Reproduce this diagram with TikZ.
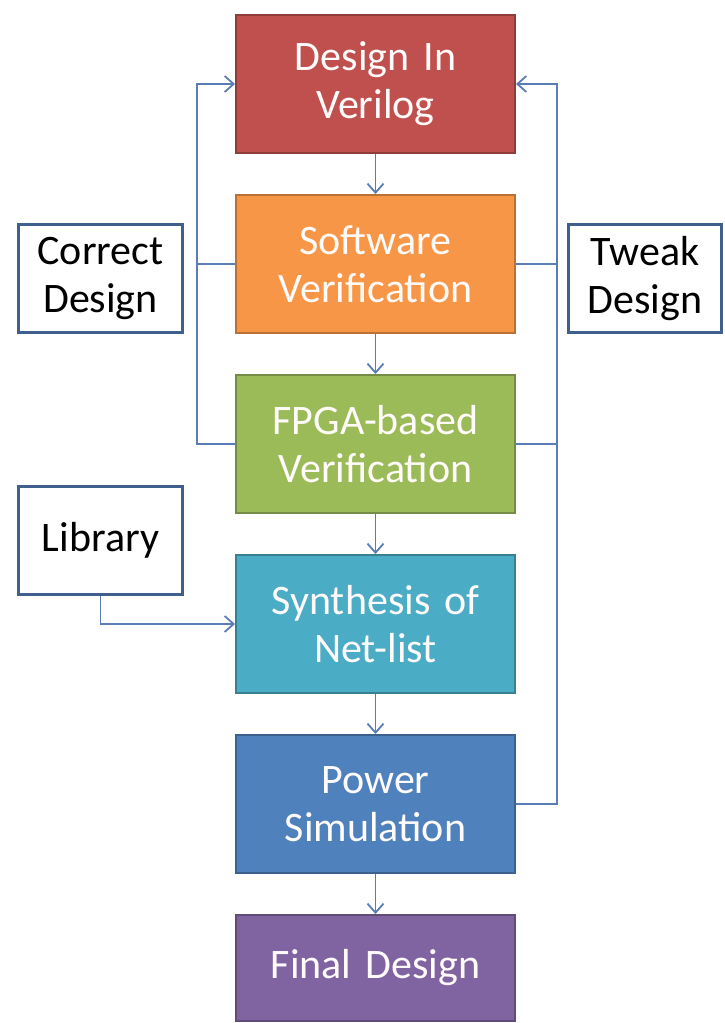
\documentclass[tikz,border=0pt]{standalone}
\usepackage{fontspec}
\setmainfont{Carlito}
\usepackage{xcolor}
\usetikzlibrary{arrows.meta,positioning}
\definecolor{flowred}{HTML}{C0504D}
\definecolor{floworange}{HTML}{F79646}
\definecolor{flowgreen}{HTML}{9BBB59}
\definecolor{flowteal}{HTML}{4BACC6}
\definecolor{flowblue}{HTML}{4F81BD}
\definecolor{flowpurple}{HTML}{8064A2}
\definecolor{linkblue}{HTML}{5B7DB5}
\definecolor{sideedge}{HTML}{3F5F8C}

\begin{document}
\begin{tikzpicture}[
      x=1pt, y=1pt,
      >={Straight Barb[length=9pt,width=16pt]},
      stage/.style={draw, line width=2pt, minimum width=279pt,
                    minimum height=138pt, text width=268pt, align=center,
                    text=white!94!pink, font=\fontsize{42}{48}\selectfont},
      sidebox/.style={draw=sideedge, line width=3pt, fill=white,
                      minimum height=108pt, align=center,
                      font=\fontsize{42}{48}\selectfont},
      link/.style={->, line width=1.8pt, linkblue},
      stub/.style={line width=1.8pt, linkblue},
    ]
    \useasboundingbox (0,0) rectangle (725,-1023);

    % --- boxes ---
    \node[stage, fill=flowred, draw=flowred!75!black] (design) at (375.5,-84)
      {Design In\\Verilog};
    \node[stage, fill=floworange, draw=floworange!75!black, below=40pt of design] (soft)
      {Software\\Verification};
    \node[stage, fill=flowgreen, draw=flowgreen!75!black, below=40pt of soft] (fpga)
      {FPGA-based\\Verification};
    \node[stage, fill=flowteal, draw=flowteal!75!black, below=40pt of fpga] (synth)
      {Synthesis of\\Net-list};
    \node[stage, fill=flowblue, draw=flowblue!75!black, below=40pt of synth] (power)
      {Power\\Simulation};
    \node[stage, fill=flowpurple, draw=flowpurple!75!black, below=40pt of power,
          minimum height=106pt] (final) {Final Design};

    % --- side boxes ---
    \node[sidebox, minimum width=164pt] (correct) at (100.5,-278.5)
      {Correct\\Design};
    \node[sidebox, minimum width=153pt] (tweak) at (645,-278.5)
      {Tweak\\Design};
    \node[sidebox, minimum width=164pt] (lib) at (100.5,-540.5) {Library};

    % --- main flow ---
    \draw[link] (design) -- (soft);
    \draw[link] (soft) -- (fpga);
    \draw[link] (fpga) -- (synth);
    \draw[link] (synth) -- (power);
    \draw[link] (power) -- (final);

    % --- feedback loops ---
    \draw[link] (fpga.west) -- ++(-38,0) |- (design.west);
    \draw[stub] (soft.west) -- ++(-38,0);
    \draw[link] (power.east) -- ++(41,0) |- (design.east);
    \draw[stub] (soft.east) -- ++(41,0);
    \draw[stub] (fpga.east) -- ++(41,0);

    % --- library input ---
    \draw[link] (lib.south) |- (synth.west);
  \end{tikzpicture}
\end{document}
